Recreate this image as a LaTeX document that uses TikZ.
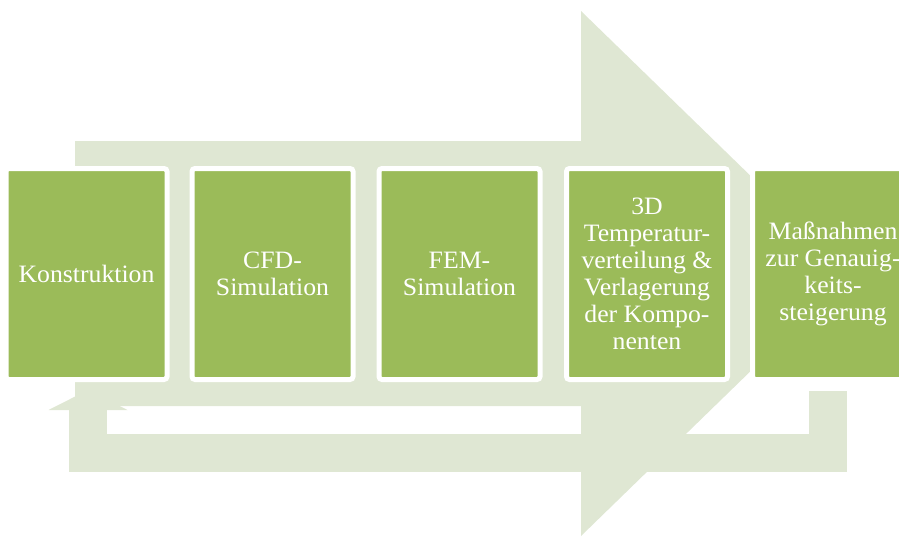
\documentclass[tikz,border=0pt]{standalone}
\usepackage{fontspec}
\setmainfont{Liberation Serif}[FakeStretch=1.03]
\usetikzlibrary{arrows.meta,calc}
\definecolor{gruen}{HTML}{9BBB59}
\definecolor{hellgruen}{HTML}{DFE7D3}
\begin{document}
\begin{tikzpicture}[x=1pt,y=-1pt,
    schritt/.style={draw=white, line width=5pt, fill=gruen, rounded corners=3pt,
        minimum width=161pt, minimum height=211pt, inner sep=0pt, outer sep=0pt,
        text=white, align=center, font=\fontsize{25}{27}\selectfont},
    rueck/.style={draw=hellgruen, line width=38pt,
        -{Triangle[length=20pt, width=79pt, line width=0pt, fill=hellgruen]}}]
    \useasboundingbox (0,0) rectangle (899,536);
    \clip (0,0) rectangle (899,536);

    % Pfeil
    \fill[hellgruen] (75,141) -- (581,141) -- (581,11) -- (851,273.5)
        -- (581,536) -- (581,406) -- (75,406) -- cycle;

    % Knoten
    \node[schritt] (konstruktion) at (86.5,274) {Konstruktion};
    \node[schritt] (cfd) at (272.5,274) {CFD-\\Simulation};
    \node[schritt] (fem) at (459.5,274) {FEM-\\Simulation};
    \node[schritt] (temp) at (647,274) {3D\\Temperatur-\\verteilung \&\\Verlagerung\\der Kompo-\\nenten};
    \node[schritt] (mass) at (833,274) {Maßnahmen\\zur Genauig-\\keits-\\steigerung};

    % Rueckfuehrung
    \draw[rueck] ($(mass.south)+(-5,11.5)$) |- ($(konstruktion.south)+(1.5,73)$)
        -- ($(konstruktion.south)+(1.5,10.5)$);

\end{tikzpicture}
\end{document}
